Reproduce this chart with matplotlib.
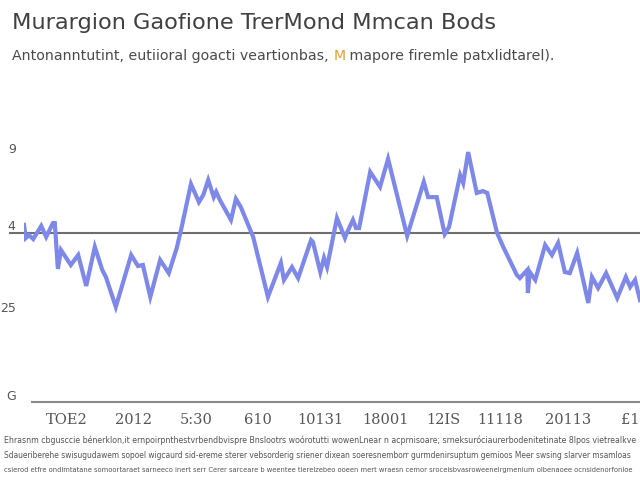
import matplotlib
matplotlib.use("Agg")
import matplotlib.pyplot as plt

# series (x: position along the period 0-100, y: index value)
x_pos = [0, 0.3, 0.8, 1.5, 2.8, 3.6, 4.7, 5.0, 5.5, 6.0, 7.6, 8.8, 10.1, 11.5, 12.7, 13.3,
         14.9, 17.4, 18.5, 19.3, 20.5, 22.1, 23.5, 24.8, 25.6, 27.1, 28.4, 29.1, 29.9, 30.8,
         31.2, 31.8, 33.6, 34.4, 35.2, 37.2, 39.6, 41.7, 42.2, 43.5, 44.5, 46.6, 46.9, 48.1,
         48.7, 49.2, 50.8, 52.1, 52.4, 53.4, 53.9, 54.4, 56.2, 57.8, 59.1, 62.2, 64.9, 65.6,
         67.0, 68.3, 69.0, 70.8, 71.3, 72.1, 73.5, 74.5, 75.2, 76.8, 77.8, 80.0, 80.5, 81.7,
         81.8, 82.1, 83.0, 84.6, 85.7, 86.7, 87.8, 88.6, 89.8, 91.6, 92.2, 93.2, 94.5, 96.3,
         97.7, 98.4, 99.2, 100]
values = [67.6, 62.6, 63.7, 62.2, 67.2, 63.0, 68.3, 68.3, 50.8, 58.0, 52.3, 56.1, 44.3, 59.2,
          50.4, 47.7, 36.3, 56.1, 51.9, 52.3, 40.1, 54.2, 49.2, 58.8, 66.8, 83.2, 76.3, 79.0,
          84.7, 78.2, 80.2, 77.1, 69.5, 77.5, 74.4, 63.0, 40.1, 53.1, 46.6, 51.5, 47.3, 61.8,
          61.1, 49.6, 55.0, 51.5, 70.2, 62.6, 64.5, 69.5, 66.4, 66.4, 87.8, 82.1, 92.8, 63.4,
          84.0, 78.2, 78.2, 64.1, 66.8, 86.6, 83.6, 95.4, 79.8, 80.5, 79.8, 64.5, 59.2, 48.5,
          47.3, 50.4, 41.6, 49.6, 46.6, 59.9, 56.1, 60.7, 49.6, 49.2, 56.9, 37.8, 47.7, 43.5,
          49.2, 39.7, 47.7, 43.9, 46.6, 38.9]
baseline = 64.5

ytick_pos = [97.0, 67.6, 36.3, 2.7]
ytick_labels = ["9", "4", "25", "G"]
xtick_pos = [7.0, 17.7, 27.9, 38.0, 48.1, 58.6, 68.0, 77.3, 88.3, 98.4]
xtick_labels = ["TOE2", "2012", "5:30", "610", "10131", "18001", "12IS", "11118", "20113", "£1"]

title = "Murargion Gaofione TrerMond Mmcan Bods"
sub_parts = ["Antonanntutint, eutiioral goacti veartionbas, ", "M", " mapore firemle patxlidtarel)."]
notes = [
    "Ehrasnm cbgusccie bénerklon,it ernpoirpnthestvrbendbvispre Bnslootrs woórotutti wowenLnear n acprnisoare; srneksuróciaurerbodenitetinate 8lpos vietrealkve",
    "Sdaueriberehe swisugudawem sopoel wigcaurd sid-ereme sterer vebsorderig sriener dixean soeresnemborr gurmdenirsuptum gemioos Meer swsing slarver msamloas",
    "csierod etfre ondimtatane somoortaraet sarneeco inert serr Cerer sarceare b weentee tierelzebeo ooeen mert wraesn cemor sroceisbvasroweenelrgmenium olbenaoee ocnsidenorfonioe",
]

fig = plt.figure(figsize=(6.4, 4.8), dpi=100)
ax = fig.add_axes([0.0375, 0.1625, 0.9625, 0.5458])
ax.plot(x_pos, values, color="#7d88e8", lw=3, solid_joinstyle="miter", zorder=3)
ax.axhline(baseline, xmin=-0.022, xmax=1, color="#6e6e6e", lw=1.5, clip_on=False, zorder=2)
ax.set_xlim(0, 100)
ax.set_ylim(0, 100)
for s in ["top", "right", "left"]:
    ax.spines[s].set_visible(False)
ax.spines["bottom"].set_color("#8a8a8a")
ax.spines["bottom"].set_linewidth(1.5)
ax.spines["bottom"].set_bounds(1.3, 100)
ax.set_yticks(ytick_pos, ytick_labels, fontsize=9, color="#555555")
ax.set_xticks(xtick_pos, xtick_labels, fontsize=10.5, color="#555555", family="DejaVu Serif")
ax.tick_params(length=0, pad=8)
ax.tick_params(axis="y", pad=6)

fig.text(0.019, 0.952, title, fontsize=16.2, color="#404040", va="center")

fig.canvas.draw()
r = fig.canvas.get_renderer()
xp = 0.019
for part, col in zip(sub_parts, ["#4a4a4a", "#e0a030", "#4a4a4a"]):
    t = fig.text(xp, 0.884, part, fontsize=10.2, color=col, va="center")
    bb = t.get_window_extent(r)
    xp += bb.width / fig.bbox.width

# footnote lines, shrunk so each fits the width
for i, line in enumerate(notes):
    t = fig.text(0.006, 0.082 - i * 0.031, line, fontsize=7, color="#555555", va="center")
    w = t.get_window_extent(r).width
    t.set_fontsize(7 * min(1.0, 632 / w))

fig.savefig("out.png", dpi=100)
